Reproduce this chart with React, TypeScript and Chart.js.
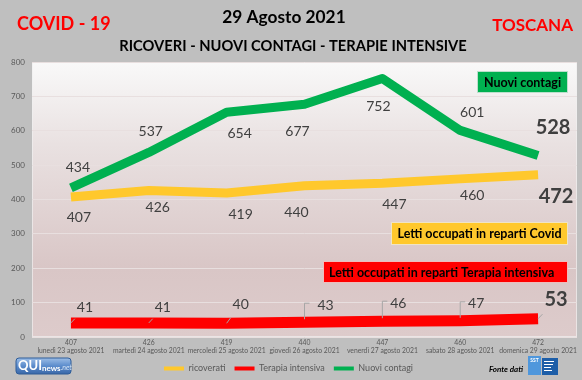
import React, { useEffect, useRef } from "react";
import { Chart, registerables } from "chart.js";

Chart.register(...registerables);

// ---------- data ----------
const categories = [
  "lunedì 23 agosto 2021",
  "martedì 24 agosto 2021",
  "mercoledì 25 agosto 2021",
  "giovedì 26 agosto 2021",
  "venerdì 27 agosto 2021",
  "sabato 28 agosto 2021",
  "domenica 29 agosto 2021",
];
const ricoverati = [407, 426, 419, 440, 447, 460, 472];
const terapiaIntensiva = [41, 41, 40, 43, 46, 47, 53];
const nuoviContagi = [434, 537, 654, 677, 752, 601, 528];
const seriesNames = ["ricoverati", "Terapia intensiva", "Nuovi contagi"];
const yMin = 0;
const yMax = 800;
const yStep = 100;

const titleLeft = "COVID - 19";
const titleRight = "TOSCANA";
const titleDate = "29 Agosto 2021";
const subtitle = "RICOVERI - NUOVI CONTAGI - TERAPIE INTENSIVE";
const boxTexts = [
  "Nuovi contagi",
  "Letti occupati in reparti Covid",
  "Letti occupati in reparti Terapia intensiva",
];
const sourceText = "Fonte dati";

// ---------- styles ----------
const FONT = "Lato, 'Open Sans', 'Liberation Sans', sans-serif";
const YELLOW = "#ffc82c";
const RED = "#ff0000";
const GREEN = "#00b050";

// label offsets (pixels from the point) for each dataset index
const labelOffsets: number[][][] = [
  [[8, 20], [9, 17], [14, 22], [-8, 27], [12, 21], [12, 17], [18, 22]],
  [[14, -15], [14, -15], [14, -19], [21, -17], [16, -18], [16, -17], [18, -19]],
  [[7, -20], [2, -21], [13, 21], [-7, 27], [-4, 28], [12, -18], [15, -28]],
];
const elbowLeaders: boolean[][] = [
  [false, false, false, false, false, false, false],
  [false, false, false, true, true, true, false],
  [false, false, false, false, false, false, false],
];

function drawLeader(ctx: CanvasRenderingContext2D, px: number, py: number, lx: number, ly: number, hw: number, hh: number, elbow: boolean) {
  ctx.save();
  ctx.strokeStyle = "#a6a6a6";
  ctx.lineWidth = 1;
  ctx.beginPath();
  if (elbow) {
    ctx.moveTo(px, py - 3);
    ctx.lineTo(px, ly - 2);
    ctx.lineTo(px + 5, ly - 2);
  } else {
    const dx = lx - px;
    const dy = ly - py;
    let t = 1;
    if (Math.abs(dx) > 0.01) t = Math.min(t, Math.max(0, (Math.abs(dx) - hw) / Math.abs(dx)));
    if (Math.abs(dy) > 0.01) t = Math.min(t, Math.max(0, (Math.abs(dy) - hh) / Math.abs(dy)));
    const tx = Math.abs(dx) > hw ? t : Math.max(0, (Math.abs(dy) - hh) / Math.abs(dy || 1));
    const tt = Math.min(t, tx);
    ctx.moveTo(px, py);
    ctx.lineTo(px + dx * tt, py + dy * tt);
  }
  ctx.stroke();
  ctx.restore();
}

const backgroundPlugin = {
  id: "bgPlugin",
  beforeDraw(chart: any) {
    const { ctx, chartArea: a, width, height } = chart;
    ctx.save();
    ctx.fillStyle = "#bfbfbf";
    ctx.fillRect(0, 0, width, height);
    const g = ctx.createLinearGradient(0, a.top, 0, a.bottom);
    g.addColorStop(0, "#f9f9f9");
    g.addColorStop(0.3, "#e9e1e1");
    g.addColorStop(0.75, "#d9c6c6");
    g.addColorStop(1, "#ddcbcb");
    ctx.fillStyle = g;
    ctx.fillRect(a.left, a.top, a.right - a.left, a.bottom - a.top);
    ctx.strokeStyle = "rgba(240,240,240,0.7)";
    ctx.lineWidth = 1;
    ctx.strokeRect(a.left + 0.5, a.top + 0.5, a.right - a.left - 1, a.bottom - a.top - 1);
    ctx.restore();
  },
};

function drawBox(ctx: CanvasRenderingContext2D, x: number, y: number, w: number, h: number, fill: string, text: string, align: "center" | "left") {
  ctx.save();
  ctx.fillStyle = fill;
  ctx.fillRect(x, y, w, h);
  ctx.strokeStyle = "rgba(235,235,235,0.8)";
  ctx.lineWidth = 1;
  ctx.strokeRect(x + 0.5, y + 0.5, w - 1, h - 1);
  ctx.fillStyle = "#000000";
  ctx.font = `bold 12.5px ${FONT}`;
  ctx.textBaseline = "middle";
  if (align === "center") {
    ctx.textAlign = "center";
    ctx.fillText(text, x + w / 2, y + h / 2 + 0.5);
  } else {
    ctx.textAlign = "left";
    ctx.fillText(text, x + 6, y + h / 2 + 0.5);
  }
  ctx.restore();
}

const overlayPlugin = {
  id: "overlayPlugin",
  afterDatasetsDraw(chart: any) {
    const { ctx } = chart;
    const a = chart.chartArea;
    // annotation boxes, anchored to chart area right edge
    const r = a.right - 9;
    drawBox(ctx, r - 91, a.top + 9, 91, 22, GREEN, boxTexts[0], "center");
    drawBox(ctx, r - 177, a.top + 160, 177, 23, YELLOW, boxTexts[1], "center");
    drawBox(ctx, r - 245, a.top + 199, 245, 22, RED, boxTexts[2], "left");

    // data labels
    chart.data.datasets.forEach((ds: any, di: number) => {
      const meta = chart.getDatasetMeta(di);
      meta.data.forEach((pt: any, i: number) => {
        const last = i === ds.data.length - 1;
        const [ox, oy] = labelOffsets[di][i];
        const lx = pt.x + ox;
        const ly = pt.y + oy;
        const text = String(ds.data[i]);
        ctx.save();
        ctx.font = last ? `bold 20px ${FONT}` : `14px ${FONT}`;
        const tw = ctx.measureText(text).width;
        const hh = last ? 10 : 8;
        drawLeader(ctx, pt.x, pt.y, lx, ly, tw / 2 + 2, hh, elbowLeaders[di][i]);
        ctx.fillStyle = last ? "#3f3f3f" : "#404040";
        ctx.textAlign = "center";
        ctx.textBaseline = "middle";
        ctx.fillText(text, lx, ly);
        ctx.restore();
      });
    });
  },
  afterDraw(chart: any) {
    const { ctx } = chart;
    ctx.save();
    ctx.textBaseline = "middle";
    ctx.fillStyle = "#ff0000";
    ctx.font = `bold 18px ${FONT}`;
    ctx.textAlign = "left";
    ctx.fillText(titleLeft, 17, 24);
    ctx.font = `bold 17px ${FONT}`;
    ctx.textAlign = "right";
    ctx.fillText(titleRight, 573, 26);
    ctx.fillStyle = "#000000";
    ctx.textAlign = "center";
    ctx.font = `bold 17.3px ${FONT}`;
    ctx.fillText(titleDate, 284, 17);
    ctx.font = `bold 14.7px ${FONT}`;
    ctx.fillText(subtitle, 293, 46);

    // QUInews logo
    const lg = ctx.createLinearGradient(0, 358, 0, 374);
    lg.addColorStop(0, "#9cbde6");
    lg.addColorStop(0.5, "#5b8ccc");
    lg.addColorStop(1, "#3a68a8");
    ctx.fillStyle = lg;
    ctx.beginPath();
    (ctx as any).roundRect(16, 358, 55, 16, 3);
    ctx.fill();
    ctx.strokeStyle = "#2e5c98";
    ctx.lineWidth = 1;
    ctx.stroke();
    ctx.textAlign = "left";
    ctx.fillStyle = "#ffffff";
    ctx.font = `bold 13px ${FONT}`;
    ctx.fillText("QUI", 18, 366);
    const qw = ctx.measureText("QUI").width;
    ctx.font = `bold 8px ${FONT}`;
    ctx.fillText("news", 18 + qw, 368);
    const nw = ctx.measureText("news").width;
    ctx.fillStyle = "#d8e6f7";
    ctx.font = `italic 7px ${FONT}`;
    ctx.fillText(".net", 18 + qw + nw, 368);

    // Fonte dati
    ctx.fillStyle = "#000000";
    ctx.font = `bold italic 8px ${FONT}`;
    ctx.textAlign = "center";
    ctx.fillText(sourceText, 506, 369);
    // SST logo
    ctx.fillStyle = "#4f97dc";
    ctx.fillRect(528, 356, 13, 19);
    ctx.fillStyle = "#1d5ea8";
    ctx.fillRect(542, 358, 16, 17);
    ctx.fillStyle = "#ffffff";
    ctx.font = `bold 5px ${FONT}`;
    ctx.fillText("SST", 534.5, 360);
    ctx.fillRect(544, 361, 10, 1);
    ctx.fillRect(544, 364, 9, 1);
    ctx.fillRect(544, 367, 7, 1);
    ctx.fillRect(544, 370, 8, 1);
    ctx.restore();
  },
};

export default function App() {
  const ref = useRef<HTMLCanvasElement | null>(null);

  useEffect(() => {
    document.body.style.margin = "0";
    const canvas = ref.current;
    if (!canvas) return;
    const labels = categories.map((c, i) => [String(ricoverati[i]), c]);
    const chart = new Chart(canvas, {
      type: "line",
      data: {
        labels,
        datasets: [
          {
            label: seriesNames[0],
            data: ricoverati,
            borderColor: YELLOW,
            backgroundColor: YELLOW,
            borderWidth: 9,
            pointRadius: 0,
            tension: 0,
            order: 2,
            borderCapStyle: "butt",
            borderJoinStyle: "round",
          },
          {
            label: seriesNames[1],
            data: terapiaIntensiva,
            borderColor: RED,
            backgroundColor: RED,
            borderWidth: 11,
            pointRadius: 0,
            tension: 0,
            order: 1,
            borderCapStyle: "butt",
            borderJoinStyle: "round",
          },
          {
            label: seriesNames[2],
            data: nuoviContagi,
            borderColor: GREEN,
            backgroundColor: GREEN,
            borderWidth: 9,
            pointRadius: 0,
            tension: 0,
            order: 0,
            borderCapStyle: "butt",
            borderJoinStyle: "round",
          },
        ],
      },
      options: {
        animation: false,
        responsive: true,
        maintainAspectRatio: false,
        layout: { padding: { left: 0, top: 62, right: 5, bottom: -3 } },
        scales: {
          x: {
            offset: true,
            grid: { display: false, drawTicks: false },
            border: { display: false },
            ticks: {
              padding: 2,
              maxRotation: 0,
              autoSkip: false,
              color: "#595959",
              font: { family: FONT, size: 6.8, lineHeight: 1.15 },
            },
            afterFit(scale: any) {
              scale.height = 18;
            },
          },
          y: {
            min: yMin,
            max: yMax,
            grid: { color: "#e8dfdf", lineWidth: 1, drawTicks: false },
            border: { display: false },
            ticks: {
              stepSize: yStep,
              padding: 7,
              color: "#595959",
              font: { family: FONT, size: 8 },
            },
            afterFit(scale: any) {
              scale.width = 32;
            },
          },
        },
        plugins: {
          title: { display: false },
          tooltip: { enabled: false },
          legend: {
            display: true,
            position: "bottom",
            labels: {
              boxWidth: 20,
              boxHeight: 4,
              padding: 9,
              color: "#595959",
              font: { family: FONT, size: 9 },
              sort: (a: any, b: any) => a.datasetIndex - b.datasetIndex,
              generateLabels: (ch: any) =>
                (Chart.defaults.plugins.legend.labels as any)
                  .generateLabels(ch)
                  .map((l: any) => ({ ...l, lineWidth: 0, strokeStyle: "transparent" })),
            },
          },
        },
      },
      plugins: [backgroundPlugin, overlayPlugin],
    } as any);
    return () => chart.destroy();
  }, []);

  return (
    <div style={{ position: "fixed", left: 0, top: 0, width: 582, height: 380, background: "#bfbfbf" }}>
      <canvas ref={ref} width={582} height={380} />
    </div>
  );
}
